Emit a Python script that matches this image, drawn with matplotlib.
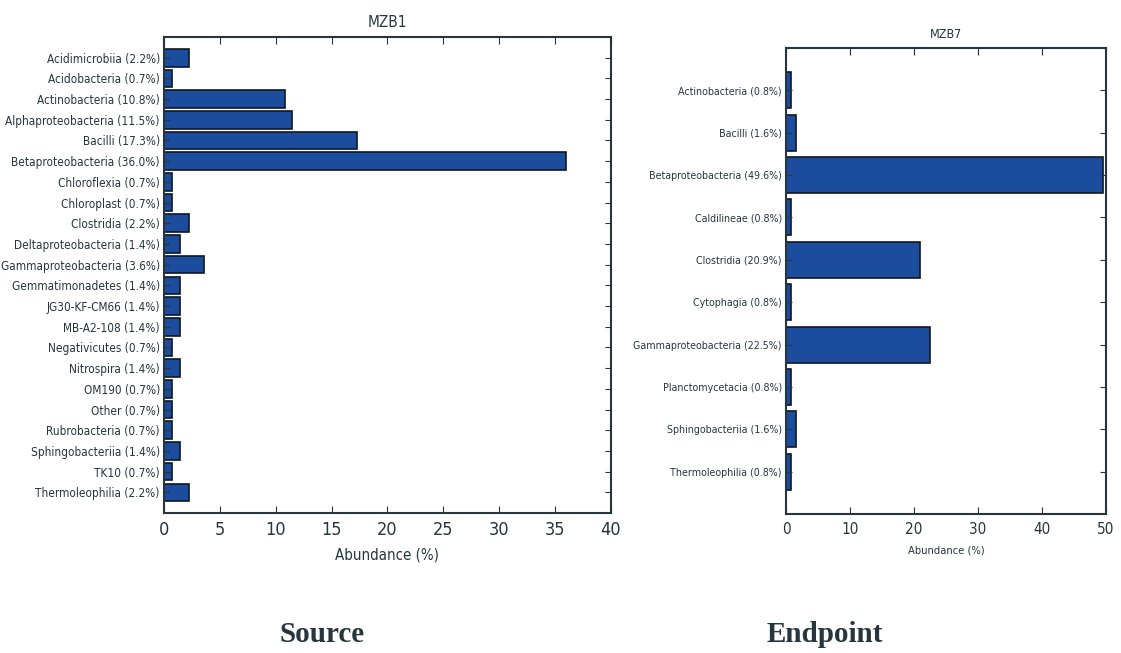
import matplotlib
matplotlib.use('Agg')
from matplotlib import pyplot as plt
from matplotlib import font_manager

# class abundances for each sample
SOURCE_CLASSES = ['Acidimicrobiia', 'Acidobacteria', 'Actinobacteria', 'Alphaproteobacteria',
                  'Bacilli', 'Betaproteobacteria', 'Chloroflexia', 'Chloroplast', 'Clostridia',
                  'Deltaproteobacteria', 'Gammaproteobacteria', 'Gemmatimonadetes',
                  'JG30-KF-CM66', 'MB-A2-108', 'Negativicutes', 'Nitrospira', 'OM190', 'Other',
                  'Rubrobacteria', 'Sphingobacteriia', 'TK10', 'Thermoleophilia']
SOURCE_VALUES = [2.2, 0.7, 10.8, 11.5, 17.3, 36.0, 0.7, 0.7, 2.2, 1.4, 3.6, 1.4,
                 1.4, 1.4, 0.7, 1.4, 0.7, 0.7, 0.7, 1.4, 0.7, 2.2]

ENDPOINT_CLASSES = ['Actinobacteria', 'Bacilli', 'Betaproteobacteria', 'Caldilineae',
                    'Clostridia', 'Cytophagia', 'Gammaproteobacteria', 'Planctomycetacia',
                    'Sphingobacteriia', 'Thermoleophilia']
ENDPOINT_VALUES = [0.8, 1.6, 49.6, 0.8, 20.9, 0.8, 22.5, 0.8, 1.6, 0.8]

BAR_COLOR = '#1b4c9e'
INK = '#26363c'

# narrow sans face if one is around, plain DejaVu otherwise
narrow = [f.fname for f in font_manager.fontManager.ttflist
          if 'Condensed' in f.fname and 'DejaVuSans' in f.fname
          and 'Bold' not in f.fname and 'Oblique' not in f.fname]
if narrow:
    def fp(size):
        return font_manager.FontProperties(fname=narrow[0], size=size)
    SHRINK = 1.0
else:
    def fp(size):
        return font_manager.FontProperties(family='DejaVu Sans', size=size)
    SHRINK = 0.9


def draw_panel(ax, classes, values, title, xmax, step, fs_y, fs_x, fs_xlabel, fs_title):
    pos = list(range(len(classes)))
    ax.barh(pos, values, height=0.85, color=BAR_COLOR, edgecolor='#101820', linewidth=1.2)
    ax.set_ylim(len(classes), -1)
    ax.set_xlim(0, xmax)
    ax.set_yticks(pos)
    ax.set_yticklabels([f'{c} ({v:.1f}%)' for c, v in zip(classes, values)],
                       fontproperties=fp(fs_y * SHRINK), color=INK)
    ax.set_xticks(range(0, xmax + 1, step))
    ax.set_xticklabels([str(t) for t in range(0, xmax + 1, step)],
                       fontproperties=fp(fs_x * SHRINK), color=INK)
    ax.tick_params(direction='in', top=True, right=True, length=5, color=INK, pad=6)
    ax.tick_params(axis='y', length=4, pad=3)
    ax.set_xlabel('Abundance (%)', fontproperties=fp(fs_xlabel * SHRINK), color=INK, labelpad=6)
    ax.set_title(title, fontproperties=fp(fs_title * SHRINK), color=INK, pad=7)
    for s in ax.spines.values():
        s.set_color(INK)
        s.set_linewidth(1.5)


fig = plt.figure(figsize=(11.21, 6.53), dpi=100)

ax1 = fig.add_axes([0.1463, 0.2144, 0.3987, 0.7289])
draw_panel(ax1, SOURCE_CLASSES, SOURCE_VALUES, 'MZB1', 40, 5, 8.5, 13, 10.8, 11)

ax2 = fig.add_axes([0.7012, 0.2129, 0.2854, 0.7136])
draw_panel(ax2, ENDPOINT_CLASSES, ENDPOINT_VALUES, 'MZB7', 50, 10, 7.7, 11, 8, 9)

fig.text(0.2872, 0.0276, 'Source', ha='center', va='center', fontsize=21,
         fontweight='bold', family='Liberation Serif', color=INK)
fig.text(0.736, 0.0276, 'Endpoint', ha='center', va='center', fontsize=21,
         fontweight='bold', family='Liberation Serif', color=INK)

fig.savefig('out.png', dpi=100)
